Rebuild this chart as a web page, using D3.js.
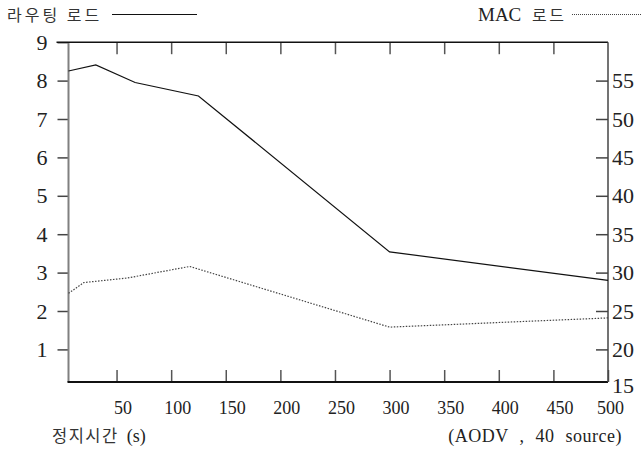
<!DOCTYPE html>
<html>
<head>
<meta charset="utf-8">
<script src="https://cdn.jsdelivr.net/npm/d3@7"></script>
<style>
  body { margin: 0; background: #fff; }
  svg { display: block; }
  .num { font-family: "Liberation Serif", "DejaVu Serif", serif; fill: #222; }
  .kr { font-family: "Noto Sans CJK KR", sans-serif; fill: #333; }
</style>
</head>
<body>
<div id="chart"></div>
<script>
// pause time (s) and loads
const routeX = [6, 31, 67, 125, 300, 500];
const routeLoad = [8.25, 8.41, 7.95, 7.60, 3.54, 2.80];
const macX = [6, 20, 60, 117, 300, 500];
const macLoad = [27.3, 28.7, 29.3, 30.8, 22.9, 24.1];

const xTicks = [50, 100, 150, 200, 250, 300, 350, 400, 450, 500];
const leftTicks = [1, 2, 3, 4, 5, 6, 7, 8, 9];
const rightTicks = [15, 20, 25, 30, 35, 40, 45, 50, 55];

// canvas and plot frame
const W = 641, H = 450;
const plotL = 68.5, plotR = 608, plotT = 42.2, plotB = 382;
const serif = '"Liberation Serif", "DejaVu Serif", serif';

const svg = d3.select("#chart").append("svg")
    .attr("width", W)
    .attr("height", H);

const x = d3.scaleLinear().domain([6, 500]).range([plotL, plotR]);
const yL = d3.scaleLinear().domain([0, 9]).range([387.8, plotT]);
const yR = d3.scaleLinear().domain([15, 60]).range([387.8, plotT]);

// x axis, ticks pointing up into the plot
const xAxis = svg.append("g")
    .attr("transform", `translate(0,${plotB})`)
    .call(d3.axisBottom(x).tickValues(xTicks).tickSize(-12).tickFormat(d3.format("d")));
xAxis.select(".domain").remove();
xAxis.selectAll(".tick line").attr("stroke", "#555").attr("stroke-width", 1.5);
xAxis.selectAll(".tick text")
    .attr("class", "num")
    .attr("y", 31.5)
    .attr("dy", 0)
    .attr("dx", d => d === 500 ? 2 : 6)
    .style("font-family", serif)
    .style("font-size", "18px");

// same ticks hanging from the top edge
const xTop = svg.append("g")
    .attr("transform", `translate(0,${plotT})`)
    .call(d3.axisTop(x).tickValues(xTicks.slice(0, -1)).tickSize(-12).tickFormat(""));
xTop.select(".domain").remove();
xTop.selectAll(".tick line").attr("stroke", "#555").attr("stroke-width", 1.5);

// left axis
const yAxisL = svg.append("g")
    .attr("transform", `translate(${plotL},0)`)
    .call(d3.axisLeft(yL).tickValues(leftTicks).tickSize(11).tickPadding(10));
yAxisL.select(".domain").remove();
yAxisL.selectAll(".tick line").attr("stroke", "#444").attr("stroke-width", 1.5);
yAxisL.selectAll(".tick text").attr("class", "num")
    .style("font-family", serif).style("font-size", "22px");

// right axis, ticks inside
const yAxisR = svg.append("g")
    .attr("transform", `translate(${plotR},0)`)
    .call(d3.axisRight(yR).tickValues(rightTicks).tickSize(-12).tickPadding(4));
yAxisR.select(".domain").remove();
yAxisR.selectAll(".tick line")
    .attr("stroke", "#444").attr("stroke-width", 1.5)
    .filter(d => d === 15).remove();
yAxisR.selectAll(".tick text").attr("class", "num")
    .attr("dy", d => d === 15 ? "0.2em" : "0.32em")
    .style("font-family", serif).style("font-size", "22px");

// frame
svg.append("line").attr("x1", plotL).attr("x2", plotL).attr("y1", plotT).attr("y2", plotB)
    .attr("stroke", "#808080").attr("stroke-width", 2);
svg.append("line").attr("x1", plotL - 1).attr("x2", plotR).attr("y1", plotB).attr("y2", plotB)
    .attr("stroke", "#111").attr("stroke-width", 2);
svg.append("line").attr("x1", plotL - 12).attr("x2", plotR).attr("y1", plotT).attr("y2", plotT)
    .attr("stroke", "#111").attr("stroke-width", 1.5);
svg.append("line").attr("x1", plotR).attr("x2", plotR).attr("y1", plotT).attr("y2", plotB)
    .attr("stroke", "#444").attr("stroke-width", 1.5);

// series
const routeLine = d3.line().x((d, i) => x(routeX[i])).y(d => yL(d));
svg.append("path")
    .attr("d", routeLine(routeLoad))
    .attr("fill", "none")
    .attr("stroke", "#111")
    .attr("stroke-width", 1.2);

const macLine = d3.line().x((d, i) => x(macX[i])).y(d => yR(d));
svg.append("path")
    .attr("d", macLine(macLoad))
    .attr("fill", "none")
    .attr("stroke", "#444")
    .attr("stroke-width", 1.2)
    .attr("stroke-dasharray", "1.5,1.5");

// legends
svg.append("text").attr("class", "kr")
    .attr("x", 7).attr("y", 21)
    .style("font-size", "16px").style("letter-spacing", "3px")
    .text("라우팅 로드");
svg.append("line").attr("x1", 112).attr("x2", 197).attr("y1", 14.5).attr("y2", 14.5)
    .attr("stroke", "#111").attr("stroke-width", 1);

const macLeg = svg.append("text").attr("x", 478).attr("y", 21);
macLeg.append("tspan").attr("class", "num").style("font-size", "19px").text("MAC ");
macLeg.append("tspan").attr("class", "kr").attr("dx", 6)
    .style("font-size", "16px").style("letter-spacing", "2.5px").text("로드");
svg.append("line").attr("x1", 572).attr("x2", 641).attr("y1", 14.5).attr("y2", 14.5)
    .attr("stroke", "#444").attr("stroke-width", 1).attr("stroke-dasharray", "1,1");

// axis titles
const xt = svg.append("text").attr("x", 52).attr("y", 442);
xt.append("tspan").attr("class", "kr").style("font-size", "16.5px").style("letter-spacing", "1.5px").text("정지시간");
xt.append("tspan").attr("class", "num").attr("dx", 8).style("font-size", "18px").text("(s)");

svg.append("text").attr("class", "num")
    .attr("x", 622).attr("y", 442)
    .attr("text-anchor", "end")
    .style("font-size", "18px")
    .style("word-spacing", "6px")
    .style("letter-spacing", "0.5px")
    .text("(AODV , 40 source)");
</script>
</body>
</html>
